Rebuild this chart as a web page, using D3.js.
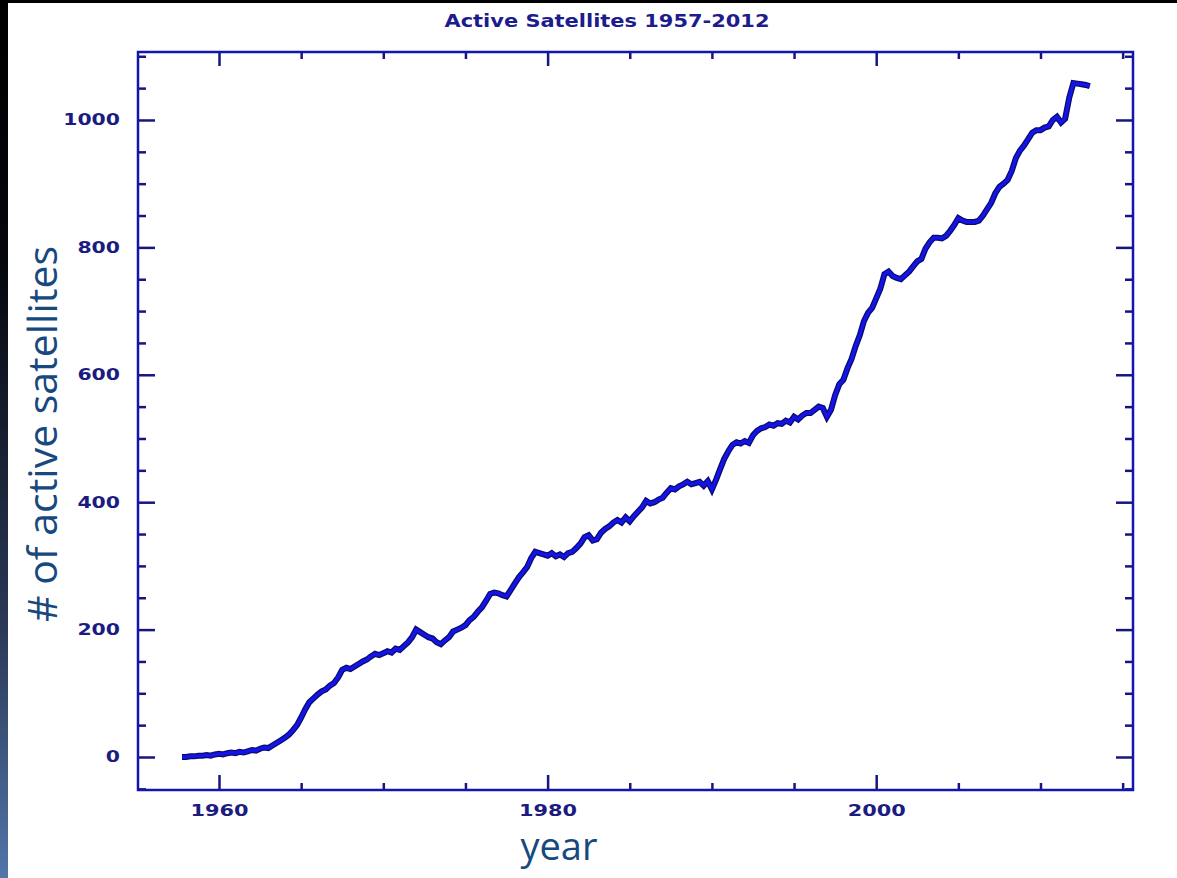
<!DOCTYPE html>
<html>
<head>
<meta charset="utf-8">
<script src="https://cdn.jsdelivr.net/npm/d3@7"></script>
<style>
  html, body { margin: 0; padding: 0; background: #fff; }
  svg { display: block; }
  .tick text { font-family: "DejaVu Sans", sans-serif; font-weight: bold; font-size: 15px; fill: #1c1c80; }
  .tick line { stroke: #16167e; stroke-width: 2.5; }
</style>
</head>
<body>
<div id="chart"></div>
<script>
// Active satellites, sampled every quarter year from startYear.
const startYear = 1957.75,
      step = 0.25;
const counts = [
  0,
  0, 1, 1, 2,          // 1958
  2, 3, 2, 4,          // 1959
  5, 4, 6, 7,          // 1960
  6, 8, 7, 9,          // 1961
  11, 10, 13, 15,      // 1962
  14, 18, 22, 26,      // 1963
  30, 35, 42, 50,      // 1964
  62, 75, 86, 92,      // 1965
  98, 103, 106, 112,   // 1966
  116, 125, 137, 140,  // 1967
  138, 142, 146, 150,  // 1968
  153, 158, 162, 160,  // 1969
  163, 166, 164, 170,  // 1970
  168, 174, 180, 188,  // 1971
  200, 196, 192, 188,  // 1972
  186, 180, 177, 183,  // 1973
  188, 197, 200, 203,  // 1974
  207, 215, 220, 228,  // 1975
  235, 245, 256, 258,  // 1976
  257, 254, 252, 262,  // 1977
  272, 282, 290, 298,  // 1978
  312, 322, 320, 318,  // 1979
  316, 320, 315, 318,  // 1980
  314, 320, 322, 328,  // 1981
  335, 345, 348, 340,  // 1982
  342, 352, 358, 362,  // 1983
  368, 372, 368, 376,  // 1984
  370, 378, 385, 392,  // 1985
  402, 398, 400, 404,  // 1986
  407, 415, 422, 420,  // 1987
  425, 428, 432, 428,  // 1988
  430, 432, 426, 433,  // 1989
  420, 435, 452, 468,  // 1990
  480, 490, 494, 492,  // 1991
  496, 493, 505, 512,  // 1992
  516, 518, 522, 520,  // 1993
  524, 523, 528, 525,  // 1994
  534, 530, 536, 540,  // 1995
  540, 545, 550, 548,  // 1996
  534, 545, 568, 585,  // 1997
  592, 610, 625, 645,  // 1998
  662, 684, 697, 705,  // 1999
  720, 735, 758, 762,  // 2000
  755, 752, 750, 756,  // 2001
  762, 770, 778, 782,  // 2002
  798, 808, 815, 815,  // 2003
  814, 818, 826, 835,  // 2004
  846, 842, 840, 840,  // 2005
  840, 842, 850, 860,  // 2006
  870, 885, 895, 900,  // 2007
  906, 920, 940, 952,  // 2008
  960, 970, 980, 984,  // 2009
  984, 988, 990, 1000, // 2010
  1005, 996, 1002, 1035, // 2011
  1058, 1057, 1056, 1055, // 2012
  1053                 // 2013
];

const yMajor = [0, 200, 400, 600, 800, 1000];
const yMinor = [-50, 50, 100, 150, 250, 300, 350, 450, 500, 550, 650, 700, 750, 850, 900, 950, 1050, 1100];
const xMajor = [1960, 1980, 2000];
const xMinor = [1965, 1970, 1975, 1985, 1990, 1995, 2005, 2010, 2015];

const title = "Active Satellites 1957-2012",
      xTitle = "year",
      yTitle = "# of active satellites";

const W = 1177, H = 878;
const frame = { left: 138, right: 1133, top: 52, bottom: 790 };

const svg = d3.select("#chart").append("svg")
    .attr("width", W)
    .attr("height", H);

// Dark strip on the left and thin black band on top.
const grad = svg.append("defs").append("linearGradient")
    .attr("id", "strip")
    .attr("x1", 0).attr("y1", 0).attr("x2", 0).attr("y2", 1);
grad.append("stop").attr("offset", "0%").attr("stop-color", "#000");
grad.append("stop").attr("offset", "30%").attr("stop-color", "#05070d");
grad.append("stop").attr("offset", "72%").attr("stop-color", "#2b3a58");
grad.append("stop").attr("offset", "100%").attr("stop-color", "#5175a9");

svg.append("rect").attr("x", 0).attr("y", 0).attr("width", 8).attr("height", H).attr("fill", "url(#strip)");
svg.append("rect").attr("x", 0).attr("y", 0).attr("width", W).attr("height", 3).attr("fill", "#000");

const x = d3.scaleLinear().domain([1955.07, 2015.63]).range([frame.left, frame.right]);
const y = d3.scaleLinear().domain([-51.8, 1106.7]).range([frame.bottom, frame.top]);

// Axes: ticks point inward on all four sides.
function axisGroup(axis, tx, ty) {
  const g = svg.append("g").attr("transform", `translate(${tx},${ty})`).call(axis);
  g.select(".domain").remove();
  return g;
}

const left = axisGroup(d3.axisLeft(y).tickValues(yMajor).tickSizeInner(-17).tickSizeOuter(0).tickPadding(18).tickFormat(d3.format("d")), frame.left, 0);
left.selectAll("text").attr("textLength", d => String(d).length * 14.2).attr("lengthAdjust", "spacingAndGlyphs");
axisGroup(d3.axisLeft(y).tickValues(yMinor).tickSizeInner(-8).tickSizeOuter(0).tickFormat(""), frame.left, 0);
axisGroup(d3.axisRight(y).tickValues(yMajor).tickSizeInner(-17).tickSizeOuter(0).tickFormat(""), frame.right, 0);
axisGroup(d3.axisRight(y).tickValues(yMinor).tickSizeInner(-8).tickSizeOuter(0).tickFormat(""), frame.right, 0);

const bottom = axisGroup(d3.axisBottom(x).tickValues(xMajor).tickSizeInner(-15).tickSizeOuter(0).tickPadding(15).tickFormat(d3.format("d")), 0, frame.bottom);
bottom.selectAll("text").attr("textLength", 58).attr("lengthAdjust", "spacingAndGlyphs");
axisGroup(d3.axisBottom(x).tickValues(xMinor).tickSizeInner(-7).tickSizeOuter(0).tickFormat(""), 0, frame.bottom);
axisGroup(d3.axisTop(x).tickValues(xMajor).tickSizeInner(-14).tickSizeOuter(0).tickFormat(""), 0, frame.top);
axisGroup(d3.axisTop(x).tickValues(xMinor).tickSizeInner(-7).tickSizeOuter(0).tickFormat(""), 0, frame.top);

// Frame.
svg.append("rect")
    .attr("x", frame.left).attr("y", frame.top)
    .attr("width", frame.right - frame.left)
    .attr("height", frame.bottom - frame.top)
    .attr("fill", "none")
    .attr("stroke", "#1414b0")
    .attr("stroke-width", 2.5);

// The series.
const line = d3.line()
    .x((d, i) => x(startYear + i * step))
    .y(d => y(d));

svg.append("path")
    .datum(counts)
    .attr("fill", "none")
    .attr("stroke", "#0b0b6e")
    .attr("stroke-width", 6)
    .attr("stroke-linejoin", "miter")
    .attr("d", line);
svg.append("path")
    .datum(counts)
    .attr("fill", "none")
    .attr("stroke", "#1414e6")
    .attr("stroke-width", 3.5)
    .attr("d", line);

// Titles.
svg.append("text")
    .attr("x", 607).attr("y", 27)
    .attr("text-anchor", "middle")
    .attr("textLength", 325).attr("lengthAdjust", "spacingAndGlyphs")
    .style("font-family", "DejaVu Sans, sans-serif")
    .style("font-weight", "bold")
    .style("font-size", "18px")
    .style("fill", "#1c1c8c")
    .text(title);

svg.append("text")
    .attr("x", 559).attr("y", 860)
    .attr("text-anchor", "middle")
    .style("font-family", "Open Sans, sans-serif")
    .style("font-size", "38px")
    .style("fill", "#17497f")
    .text(xTitle);

svg.append("text")
    .attr("transform", "translate(57,434) rotate(-90)")
    .attr("text-anchor", "middle")
    .style("font-family", "Open Sans, sans-serif")
    .style("font-size", "41px")
    .style("fill", "#17497f")
    .text(yTitle);
</script>
</body>
</html>
